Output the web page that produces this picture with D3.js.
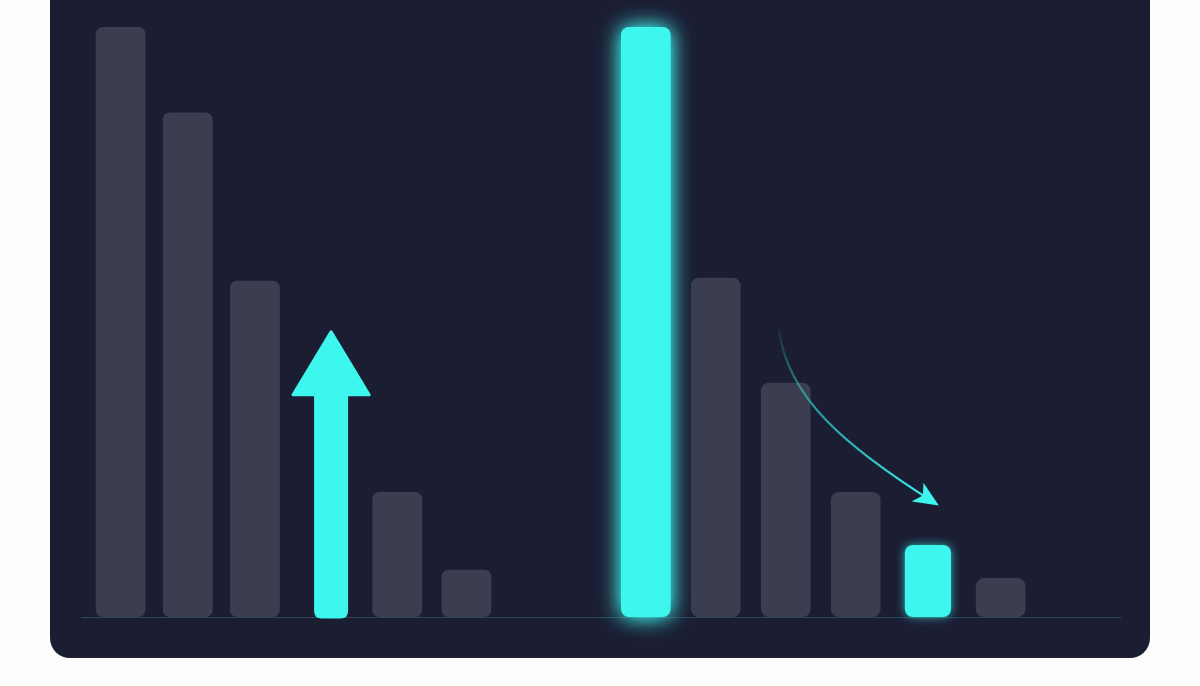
<!DOCTYPE html>
<html>
<head>
<meta charset="utf-8">
<script src="https://cdn.jsdelivr.net/npm/d3@7"></script>
<style>
  html, body { margin: 0; padding: 0; background: #fdfdfd; }
  svg { display: block; }
</style>
</head>
<body>
<svg id="chart" width="1200" height="686"></svg>
<script>
// Data (arbitrary 0-100 units)
var leftCats = ['a1', 'a2', 'a3', 'a4', 'a5', 'a6'];
var leftVals = [100, 85.5, 57, 48.5, 21.2, 8];
var rightCats = ['b1', 'b2', 'b3', 'b4', 'b5', 'b6'];
var rightVals = [100, 57.5, 39.7, 21.2, 12.2, 6.6];
// which bars are highlighted (index in each group)
var leftHighlight = 3;   // drawn as an upward arrow
var rightHighlight = [0, 4];

var baseY = 617;
var cyan = '#3df7ef', grey = '#3b3d50', panel = '#1b1d33';

var svg = d3.select('#chart');
var defs = svg.append('defs');

// Glow filters
function glow(id, sd, op) {
  var f = defs.append('filter').attr('id', id)
    .attr('x', '-100%').attr('y', '-20%').attr('width', '300%').attr('height', '140%');
  f.append('feGaussianBlur').attr('in', 'SourceGraphic').attr('stdDeviation', sd).attr('result', 'b');
  f.append('feComponentTransfer').attr('in', 'b').attr('result', 'bo')
    .append('feFuncA').attr('type', 'linear').attr('slope', op);
  var m = f.append('feMerge');
  m.append('feMergeNode').attr('in', 'bo');
  m.append('feMergeNode').attr('in', 'SourceGraphic');
}
glow('glowBig', 11, 1.3);
glow('glowSmall', 5, 0.7);

// Panel
svg.append('rect')
  .attr('x', 50).attr('y', -40)
  .attr('width', 1100).attr('height', 698)
  .attr('rx', 20)
  .attr('fill', panel);

// Scales
var y = d3.scaleLinear().domain([0, 100]).range([baseY, 27]);
var xL = d3.scaleBand().domain(leftCats).range([86, 501]).paddingInner(0.28).paddingOuter(0.14);
var xR = d3.scaleBand().domain(rightCats).range([610.5, 1031]).paddingInner(0.29).paddingOuter(0.15);

// Baseline
svg.append('line')
  .attr('x1', 81).attr('x2', 1121)
  .attr('y1', baseY + 0.5).attr('y2', baseY + 0.5)
  .attr('stroke', '#2b4656').attr('stroke-width', 1);

var area = svg.append('g');

// Left group bars (grey), except highlighted one
var leftData = leftCats.map(function(c, i) { return {cat: c, v: leftVals[i], i: i}; });
area.selectAll('.lbar')
  .data(leftData.filter(function(d) { return d.i !== leftHighlight; }))
  .enter().append('rect')
  .attr('class', 'lbar')
  .attr('x', function(d) { return xL(d.cat) - (d.i < 3 ? (d.i * 2) : 0); })
  .attr('y', function(d) { return y(d.v); })
  .attr('width', xL.bandwidth())
  .attr('height', function(d) { return baseY - y(d.v); })
  .attr('rx', 7)
  .attr('fill', grey);

// Arrow for highlighted left bar
var ad = leftData[leftHighlight];
var ax = xL(ad.cat) + xL.bandwidth() / 2 + 3;
var tipY = y(ad.v) + 1;
var headH = 63, headW = 38, shaftW = 15.5;
var arrowPath = [
  'M', ax - shaftW, baseY - 6,
  'L', ax - shaftW, tipY + headH,
  'L', ax - headW, tipY + headH,
  'L', ax, tipY,
  'L', ax + headW, tipY + headH,
  'L', ax + shaftW, tipY + headH,
  'L', ax + shaftW, baseY - 6,
  'Q', ax + shaftW, baseY, ax + shaftW - 6, baseY,
  'L', ax - shaftW + 6, baseY,
  'Q', ax - shaftW, baseY, ax - shaftW, baseY - 6, 'Z'
].join(' ');
area.append('path')
  .attr('d', arrowPath)
  .attr('fill', cyan)
  .attr('stroke', cyan)
  .attr('stroke-width', 3)
  .attr('stroke-linejoin', 'round');

// Right group bars
var rightData = rightCats.map(function(c, i) { return {cat: c, v: rightVals[i], i: i}; });
area.selectAll('.rbar')
  .data(rightData)
  .enter().append('rect')
  .attr('class', 'rbar')
  .attr('x', function(d) { return xR(d.cat) + (d.i === 4 ? 4 : d.i === 5 ? 5 : 0); })
  .attr('y', function(d) { return y(d.v); })
  .attr('width', function(d) { return d.i === 4 ? xR.bandwidth() - 3.5 : xR.bandwidth(); })
  .attr('height', function(d) { return baseY - y(d.v); })
  .attr('rx', 8)
  .attr('fill', function(d) { return rightHighlight.indexOf(d.i) >= 0 ? cyan : grey; })
  .attr('filter', function(d) {
    if (d.i === 0) return 'url(#glowBig)';
    if (d.i === 4) return 'url(#glowSmall)';
    return null;
  });

// Curved annotation arrow from bar 3 towards bar 5 in right group
var b3 = rightData[2], b5 = rightData[4];
var sx = xR(b3.cat) + 18, sy = y(b3.v) - 54;
var ex = xR(b5.cat) + 34, ey = y(b5.v) - 42;
var grad = defs.append('linearGradient').attr('id', 'curveGrad')
  .attr('gradientUnits', 'userSpaceOnUse')
  .attr('x1', sx).attr('y1', sy).attr('x2', ex).attr('y2', ey);
grad.append('stop').attr('offset', 0).attr('stop-color', cyan).attr('stop-opacity', 0.05);
grad.append('stop').attr('offset', 0.35).attr('stop-color', '#2bbfc0').attr('stop-opacity', 0.75);
grad.append('stop').attr('offset', 1).attr('stop-color', cyan).attr('stop-opacity', 1);

defs.append('marker').attr('id', 'head')
  .attr('viewBox', '0 -7 16 14')
  .attr('refX', 13).attr('refY', 0)
  .attr('markerUnits', 'userSpaceOnUse')
  .attr('markerWidth', 26).attr('markerHeight', 22)
  .attr('orient', 'auto')
  .append('path')
  .attr('d', 'M0,-7 L16,0 L0,7 L4,0 Z')
  .attr('fill', cyan);

area.append('path')
  .attr('d', 'M' + sx + ',' + sy +
    ' C' + (sx + 8) + ',' + (sy + 70) + ' ' + (sx + 70) + ',' + (sy + 120) + ' ' + ex + ',' + ey)
  .attr('fill', 'none')
  .attr('stroke', 'url(#curveGrad)')
  .attr('stroke-width', 2.2)
  .attr('marker-end', 'url(#head)');
</script>
</body>
</html>
